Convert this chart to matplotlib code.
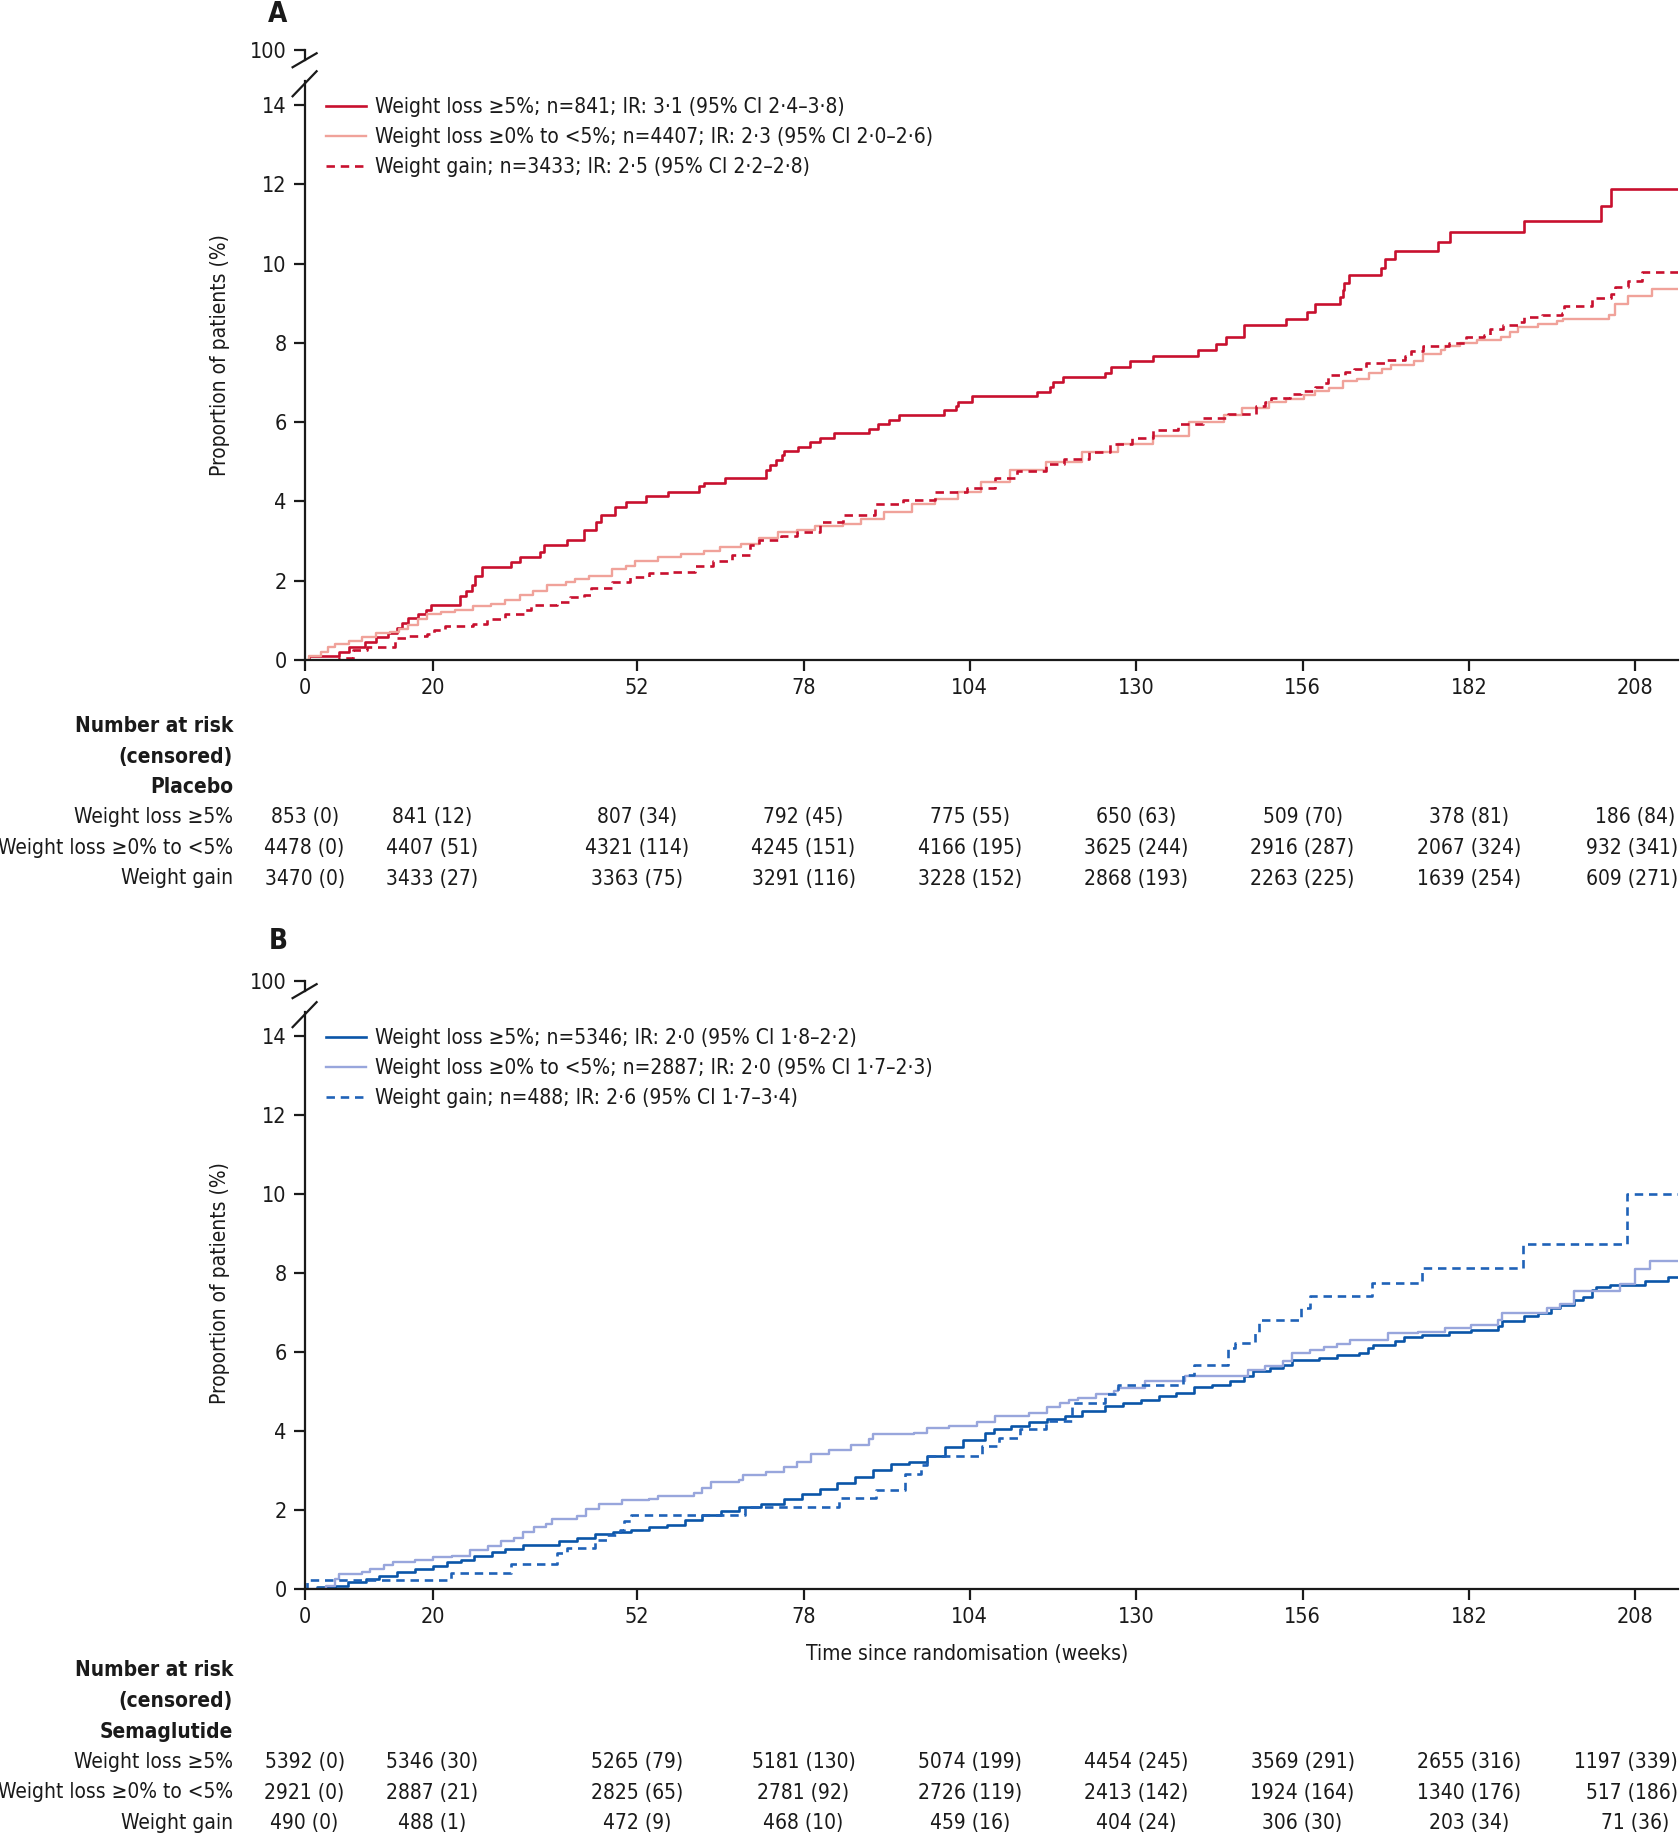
import os
import matplotlib
matplotlib.use("Agg")
import matplotlib.pyplot as plt
from matplotlib import font_manager
from matplotlib.lines import Line2D
from matplotlib.transforms import blended_transform_factory

# ---------------- fonts ----------------
entries = font_manager.fontManager.ttflist

def pick_condensed():
    prefs = ["notosans-condensed.", "opensans-condensed", "opensans_condensed", "opensanscondensed",
             "liberationsansnarrow-regular", "dejavusanscondensed."]
    for p in prefs:
        for e in entries:
            if os.path.basename(e.fname).lower().startswith(p):
                return e
    for e in entries:
        if e.stretch in ("condensed", "semi-condensed", "extra-condensed") and e.style == "normal" \
                and e.weight in (400, "normal", "regular"):
            return e
    return None

cond = pick_condensed()
if cond is not None:
    plt.rcParams["font.family"] = [cond.name, "DejaVu Sans"]
    plt.rcParams["font.stretch"] = cond.stretch
    FS = 15
    FT = 15.5
else:
    plt.rcParams["font.family"] = ["Liberation Sans", "DejaVu Sans"]
    FS = 14
    FT = 14.5

# ---------------- data ----------------
tick_weeks = [0, 20, 52, 78, 104, 130, 156, 182, 208]

# Panel A (placebo)
a_wl5_x = [0, 0.7, 5.4, 6.9, 9.4, 11.2, 13.0, 14.4, 15.2, 16.1, 17.8, 19.0, 19.8, 24.3, 25.2, 26.2, 26.7, 27.8,
           32.3, 33.6, 36.8, 37.5, 41.0, 43.7, 45.5, 46.4, 48.6, 50.2, 53.3, 56.8, 61.7, 62.5, 65.7, 72.1, 72.7,
           73.7, 74.6, 74.9, 77.1, 79.0, 80.5, 82.8, 88.2, 89.7, 91.3, 92.9, 99.9, 101.9, 102.2, 104.4, 114.5,
           116.5, 117.0, 118.5, 125.1, 126.0, 129.1, 132.7, 139.7, 142.5, 144.0, 146.8, 146.9, 153.4, 156.7,
           157.9, 161.8, 162.3, 162.5, 163.2, 168.2, 168.9, 170.4, 177.2, 179.0, 190.6, 202.6, 204.2, 214.7]
a_wl5_y = [0, 0.09, 0.21, 0.32, 0.45, 0.57, 0.68, 0.81, 0.93, 1.05, 1.16, 1.27, 1.40, 1.62, 1.75, 1.88, 2.13, 2.34,
           2.48, 2.59, 2.72, 2.91, 3.03, 3.27, 3.48, 3.65, 3.87, 3.98, 4.13, 4.25, 4.38, 4.47, 4.60, 4.80, 4.92,
           5.04, 5.16, 5.28, 5.38, 5.50, 5.60, 5.72, 5.84, 5.96, 6.06, 6.18, 6.30, 6.41, 6.51, 6.65, 6.77,
           6.89, 7.01, 7.13, 7.25, 7.39, 7.54, 7.67, 7.82, 7.98, 8.14, 8.30, 8.45, 8.61, 8.78,
           8.97, 9.16, 9.33, 9.52, 9.72, 9.90, 10.12, 10.33, 10.55, 10.79, 11.07, 11.46, 11.87, 11.87]

a_wl0_x = [0, 0.7, 2.5, 3.6, 4.7, 6.9, 9.0, 11.2, 13.4, 14.8, 16.2, 17.7, 19.1, 21.3, 23.5, 26.4, 29.2, 31.4,
           33.6, 35.7, 37.9, 40.8, 42.2, 44.4, 48.0, 50.2, 51.6, 55.2, 58.8, 62.5, 65.0, 68.2, 71.1, 74.0, 76.9,
           79.8, 84.1, 87.0, 90.6, 94.9, 98.6, 102.2, 105.8, 110.3, 115.9, 121.5, 127.1, 132.7, 138.2, 143.8,
           146.6, 150.7, 153.4, 156.2, 157.9, 160.2, 162.3, 164.5, 166.4, 168.4, 169.8, 173.5, 174.8, 177.6,
           178.2, 180.6, 183.3, 187.0, 188.4, 189.7, 192.8, 195.8, 196.8, 203.9, 204.9, 206.9, 210.7, 214.7]
a_wl0_y = [0, 0.11, 0.19, 0.32, 0.40, 0.47, 0.57, 0.68, 0.70, 0.78, 0.89, 1.04, 1.15, 1.20, 1.26, 1.35, 1.41, 1.52,
           1.63, 1.75, 1.88, 1.96, 2.05, 2.13, 2.30, 2.38, 2.51, 2.59, 2.68, 2.76, 2.86, 2.93, 3.08, 3.23, 3.28,
           3.37, 3.44, 3.56, 3.73, 3.94, 4.07, 4.24, 4.49, 4.80, 5.00, 5.25, 5.45, 5.65, 6.00, 6.17,
           6.35, 6.51, 6.59, 6.69, 6.79, 6.87, 7.04, 7.10, 7.23, 7.34, 7.44, 7.55, 7.72, 7.81,
           7.93, 7.99, 8.07, 8.16, 8.28, 8.39, 8.47, 8.54, 8.61, 8.71, 8.97, 9.18, 9.35, 9.35]

a_wg_x = [0, 5.4, 7.6, 9.7, 14.1, 16.2, 19.1, 20.2, 22.0, 26.4, 28.5, 31.4, 34.3, 35.4, 39.4, 41.5, 43.7, 44.8,
          48.0, 50.9, 53.8, 57.4, 61.0, 63.9, 66.8, 69.7, 71.1, 74.4, 76.9, 80.5, 84.1, 89.2, 93.5, 98.6, 103.6,
          107.9, 111.3, 115.9, 118.7, 122.6, 125.9, 129.3, 132.7, 136.6, 140.5, 144.4, 148.7, 150.1, 151.1,
          154.1, 155.8, 157.9, 159.2, 160.0, 162.6, 164.0, 166.0, 169.0, 172.1, 173.0, 174.8, 178.9, 181.6,
          184.3, 185.3, 187.3, 189.7, 190.7, 193.4, 196.6, 196.9, 201.2, 204.2, 204.9, 206.9, 209.0, 214.7]
a_wg_y = [0, 0.05, 0.24, 0.32, 0.55, 0.60, 0.66, 0.76, 0.87, 0.91, 1.04, 1.16, 1.25, 1.40, 1.46, 1.58, 1.65, 1.82,
          1.96, 2.09, 2.19, 2.21, 2.36, 2.49, 2.66, 2.89, 3.03, 3.14, 3.23, 3.48, 3.67, 3.94, 4.03, 4.24, 4.35,
          4.60, 4.78, 4.95, 5.07, 5.25, 5.45, 5.60, 5.80, 5.95, 6.10, 6.20, 6.42, 6.51, 6.62,
          6.70, 6.79, 6.89, 6.99, 7.18, 7.26, 7.35, 7.50, 7.58, 7.67, 7.79, 7.93, 7.99, 8.16,
          8.21, 8.36, 8.46, 8.53, 8.65, 8.70, 8.76, 8.92, 9.14, 9.23, 9.40, 9.57, 9.80, 9.80]

# Panel B (semaglutide)
b_wl5_x = [0, 1.9, 4.7, 6.8, 9.6, 11.7, 14.5, 17.3, 20.1, 22.2, 24.4, 26.5, 29.3, 31.4, 34.2, 39.8, 42.6, 45.4,
           48.2, 51.0, 53.8, 56.6, 59.4, 62.2, 65.1, 67.9, 71.4, 74.9, 77.7, 80.5, 83.3, 86.1, 88.9, 91.7, 94.5,
           97.3, 100.1, 103.0, 106.3, 107.7, 110.5, 113.3, 116.1, 118.8, 121.6, 125.1, 127.9, 130.7, 133.5,
           136.3, 139.1, 141.9, 144.7, 146.8, 148.2, 150.9, 153.0, 154.4, 158.6, 161.4, 164.9, 166.3, 167.0,
           170.5, 171.9, 174.7, 178.9, 182.4, 186.5, 187.2, 190.7, 192.8, 194.9, 196.3, 198.4, 199.8, 201.2,
           201.9, 204.0, 209.6, 213.1, 214.7]
b_wl5_y = [0, 0.04, 0.08, 0.17, 0.25, 0.31, 0.42, 0.51, 0.57, 0.68, 0.73, 0.84, 0.93, 1.01, 1.10, 1.22, 1.29, 1.39,
           1.44, 1.49, 1.56, 1.62, 1.73, 1.86, 1.98, 2.08, 2.15, 2.28, 2.41, 2.53, 2.68, 2.83, 3.01, 3.15, 3.20,
           3.36, 3.59, 3.76, 3.95, 4.04, 4.13, 4.21, 4.29, 4.38, 4.50, 4.63, 4.69, 4.79, 4.88,
           4.96, 5.11, 5.17, 5.26, 5.38, 5.51, 5.59, 5.67, 5.78, 5.84, 5.92, 5.98, 6.09, 6.18,
           6.26, 6.38, 6.43, 6.51, 6.55, 6.64, 6.79, 6.91, 6.97, 7.10, 7.18, 7.31, 7.39, 7.56,
           7.64, 7.70, 7.78, 7.89, 7.89]

b_wl0_x = [0, 3.3, 4.7, 5.4, 8.9, 10.3, 12.4, 13.8, 17.3, 20.1, 23.0, 25.8, 28.6, 30.7, 32.8, 34.2, 35.9, 37.7,
           38.7, 42.6, 44.0, 46.1, 49.6, 53.8, 55.2, 60.8, 62.2, 63.6, 67.9, 68.6, 72.1, 74.9, 77.0, 79.1, 81.9,
           85.4, 88.2, 88.9, 95.2, 97.3, 100.8, 105.1, 108.0, 113.3, 116.1, 118.1, 119.5, 120.9, 123.7, 126.5,
           127.2, 131.4, 137.7, 147.5, 150.2, 153.0, 154.4, 157.2, 159.3, 161.4, 163.5, 169.4, 174.0, 178.2,
           182.4, 186.5, 187.2, 194.2, 196.3, 198.4, 205.7, 208.0, 210.3, 214.7]
b_wl0_y = [0, 0.08, 0.25, 0.38, 0.42, 0.51, 0.59, 0.68, 0.73, 0.80, 0.84, 0.97, 1.07, 1.21, 1.29, 1.43, 1.56, 1.65,
           1.77, 1.83, 2.03, 2.15, 2.24, 2.28, 2.36, 2.42, 2.56, 2.70, 2.74, 2.89, 2.95, 3.08, 3.21, 3.42, 3.52,
           3.63, 3.80, 3.92, 3.94, 4.07, 4.11, 4.22, 4.38, 4.46, 4.59, 4.71, 4.78, 4.84, 4.92, 5.00,
           5.09, 5.26, 5.38, 5.55, 5.63, 5.76, 5.98, 6.05, 6.11, 6.20, 6.30, 6.47, 6.51, 6.59,
           6.68, 6.80, 6.97, 7.10, 7.21, 7.54, 7.72, 8.10, 8.31, 8.31]

b_wg_x = [0, 0.3, 22.9, 32.3, 39.4, 41.0, 45.4, 47.2, 49.3, 50.0, 51.0, 68.9, 83.6, 89.3, 93.8, 96.3, 97.3,
          105.9, 108.5, 111.9, 115.9, 119.9, 125.1, 127.1, 137.3, 139.1, 144.3, 145.4, 148.5, 149.2, 155.8,
          157.2, 166.9, 174.7, 190.4, 206.8, 214.7]
b_wg_y = [0, 0.21, 0.41, 0.62, 0.90, 1.04, 1.24, 1.35, 1.48, 1.71, 1.87, 2.07, 2.30, 2.51, 2.91, 3.14, 3.36,
          3.61, 3.81, 4.04, 4.25, 4.71, 4.92, 5.15, 5.40, 5.67, 6.09, 6.22, 6.51, 6.80, 7.10,
          7.41, 7.74, 8.13, 8.73, 10.0, 10.0]

a_labels = ["Weight loss \u22655%; n=841; IR: 3\u00b71 (95% CI 2\u00b74\u20133\u00b78)",
            "Weight loss \u22650% to <5%; n=4407; IR: 2\u00b73 (95% CI 2\u00b70\u20132\u00b76)",
            "Weight gain; n=3433; IR: 2\u00b75 (95% CI 2\u00b72\u20132\u00b78)"]
b_labels = ["Weight loss \u22655%; n=5346; IR: 2\u00b70 (95% CI 1\u00b78\u20132\u00b72)",
            "Weight loss \u22650% to <5%; n=2887; IR: 2\u00b70 (95% CI 1\u00b77\u20132\u00b73)",
            "Weight gain; n=488; IR: 2\u00b76 (95% CI 1\u00b77\u20133\u00b74)"]

row_labels = ["Weight loss \u22655%", "Weight loss \u22650% to <5%", "Weight gain"]

a_risk = [["853 (0)", "841 (12)", "807 (34)", "792 (45)", "775 (55)", "650 (63)", "509 (70)", "378 (81)", "186 (84)"],
          ["4478 (0)", "4407 (51)", "4321 (114)", "4245 (151)", "4166 (195)", "3625 (244)", "2916 (287)", "2067 (324)", "932 (341)"],
          ["3470 (0)", "3433 (27)", "3363 (75)", "3291 (116)", "3228 (152)", "2868 (193)", "2263 (225)", "1639 (254)", "609 (271)"]]
b_risk = [["5392 (0)", "5346 (30)", "5265 (79)", "5181 (130)", "5074 (199)", "4454 (245)", "3569 (291)", "2655 (316)", "1197 (339)"],
          ["2921 (0)", "2887 (21)", "2825 (65)", "2781 (92)", "2726 (119)", "2413 (142)", "1924 (164)", "1340 (176)", "517 (186)"],
          ["490 (0)", "488 (1)", "472 (9)", "468 (10)", "459 (16)", "404 (24)", "306 (30)", "203 (34)", "71 (36)"]]

# ---------------- layout ----------------
W, H = 1680, 1837
fig = plt.figure(figsize=(W / 100, H / 100), dpi=100)
fig.patch.set_facecolor("white")

def fx(px):
    return px / W

def fy(py):
    return 1 - py / H

TXT = "#1a1a1a"
X0, X1 = 304.6, 1678
XMAX = 214.7
YTOP = 14.6
risk_texts = []

def make_panel(y0px, unit, series, labels, group, risk, ylab_y, letter, letter_y, header_y, xlabel=False):
    ax = fig.add_axes([fx(X0), fy(y0px), (X1 - X0) / W, YTOP * unit / H])
    for (x, y, c, lw, ls) in series:
        ax.step(x, y, where="post", color=c, lw=lw, ls=ls,
                dashes=(3.2, 2.2) if ls == "--" else (None, None))
    ax.set_xlim(0, XMAX)
    ax.set_ylim(0, YTOP)
    ax.set_xticks(tick_weeks)
    ax.set_yticks(range(0, 15, 2))
    for s in ["top", "right"]:
        ax.spines[s].set_visible(False)
    for s in ["left", "bottom"]:
        ax.spines[s].set_linewidth(1.6)
        ax.spines[s].set_color(TXT)
    ax.tick_params(direction="out", length=8, width=1.6, labelsize=FT, colors=TXT, pad=5)
    ax.set_facecolor("none")

    # upper broken piece with 100
    top_px = y0px - YTOP * unit
    ub_bot = top_px - 21
    ub_top = top_px - 31
    ax2 = fig.add_axes([fx(X0), fy(ub_bot), (X1 - X0) / W, (ub_bot - ub_top) / H])
    ax2.set_ylim(99.4, 100)
    ax2.set_yticks([100])
    ax2.set_xlim(0, XMAX)
    ax2.set_xticks([])
    for s in ["top", "right", "bottom"]:
        ax2.spines[s].set_visible(False)
    ax2.spines["left"].set_linewidth(1.6)
    ax2.spines["left"].set_color(TXT)
    ax2.tick_params(direction="out", length=8, width=1.6, labelsize=FT, colors=TXT, pad=5)
    ax2.patch.set_visible(False)

    for (xa, ya, xb, yb) in [(X0 - 12, ub_bot + 7, X0 + 12, ub_bot - 7),
                             (X0 - 12, top_px + 15, X0 + 12, top_px - 10)]:
        fig.add_artist(Line2D([fx(xa), fx(xb)], [fy(ya), fy(yb)], transform=fig.transFigure,
                              color=TXT, lw=1.6))

    handles = [Line2D([], [], color=c, lw=lw, ls=ls, dashes=(3.2, 2.2) if ls == "--" else (None, None))
               for (x, y, c, lw, ls) in series]
    leg = ax.legend(handles, labels, loc="upper left", bbox_to_anchor=((328 - X0 - 2) / (X1 - X0), 0.972),
                    frameon=False, fontsize=FS, handlelength=1.9, handletextpad=0.45,
                    labelspacing=0.47, borderpad=0, borderaxespad=0)
    for t in leg.get_texts():
        t.set_color(TXT)

    fig.text(fx(220), fy(ylab_y), "Proportion of patients (%)", rotation=90, ha="center", va="center",
             fontsize=FS, color=TXT)
    fig.text(fx(278), fy(letter_y), letter, ha="center", va="center", fontsize=FS + 5,
             fontweight="bold", color=TXT)

    tr = blended_transform_factory(ax.transData, fig.transFigure)
    hdr = ["Number at risk", "(censored)", group]
    for i, h in enumerate(hdr):
        fig.text(fx(233), fy(header_y + i * 30.5), h, ha="right", va="center", fontsize=FS,
                 fontweight="bold", color=TXT)
    for r in range(3):
        yy = fy(header_y + (3 + r) * 30.5)
        fig.text(fx(233), yy, row_labels[r], ha="right", va="center", fontsize=FS, color=TXT)
        for c, w in enumerate(tick_weeks):
            t = ax.text(w, yy, risk[r][c], transform=tr, ha="center", va="center", fontsize=FS,
                        color=TXT, clip_on=False)
            risk_texts.append((ax, t))
    if xlabel:
        fig.text(fx(967), fy(y0px + 65), "Time since randomisation (weeks)", ha="center", va="center",
                 fontsize=FS, color=TXT)
    return ax

RED = "#c8102e"
PINK = "#f0a29a"
BLUE = "#0a55a8"
LBLUE = "#98a6dc"
DBLUE = "#1f62b8"

make_panel(660, 39.64,
           [(a_wl5_x, a_wl5_y, RED, 1.9, "-"),
            (a_wl0_x, a_wl0_y, PINK, 1.7, "-"),
            (a_wg_x, a_wg_y, RED, 1.9, "--")],
           a_labels, "Placebo", a_risk, 355, "A", 14, 726)

make_panel(1588.7, 39.49,
           [(b_wl5_x, b_wl5_y, BLUE, 1.9, "-"),
            (b_wl0_x, b_wl0_y, LBLUE, 1.7, "-"),
            (b_wg_x, b_wg_y, DBLUE, 1.9, "--")],
           b_labels, "Semaglutide", b_risk, 1283, "B", 941, 1670.5, xlabel=True)

# keep right-most risk numbers inside the canvas
fig.canvas.draw()
renderer = fig.canvas.get_renderer()
px_per_week = (X1 - X0) / XMAX
for ax, t in risk_texts:
    bb = t.get_window_extent(renderer)
    over = bb.x1 - (W - 2)
    if over > 0:
        x, y = t.get_position()
        t.set_position((x - over / px_per_week, y))

fig.savefig("out.png", dpi=100, facecolor="white")
